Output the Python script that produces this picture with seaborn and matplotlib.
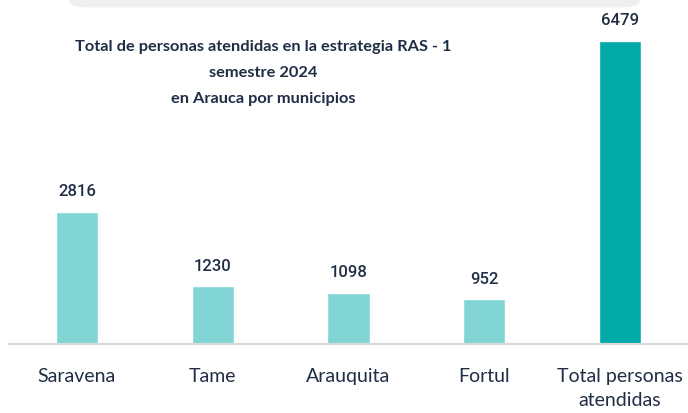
import matplotlib
matplotlib.use("Agg")
import matplotlib.pyplot as plt
from matplotlib.patches import FancyBboxPatch
import pandas as pd
import seaborn as sns

categories = ["Saravena", "Tame", "Arauquita", "Fortul", "Total personas\natendidas"]
values = [2816, 1230, 1098, 952, 6479]
bar_colors = ["#80d4d3", "#80d4d3", "#80d4d3", "#80d4d3", "#00aaa9"]

TITLE = "Total de personas atendidas en la estrategia RAS - 1\nsemestre 2024\nen Arauca por municipios"
TEXT_COLOR = "#1f2d45"

sns.set_theme(style="white")
plt.rcParams["font.family"] = ["Lato", "DejaVu Sans"]

df = pd.DataFrame({"municipio": categories, "personas": values})

fig = plt.figure(figsize=(6.88, 4.13), dpi=100)
ax = fig.add_axes([0.013, 0.167, 0.987, 0.794])

# light grey rounded shape peeking in at the top edge
fig.patches.append(FancyBboxPatch((0.1, 0.982), 0.83, 0.1, boxstyle="round,pad=0,rounding_size=0.03",
                                  transform=fig.transFigure, facecolor="#efefef", edgecolor="none",
                                  mutation_aspect=0.6))

sns.barplot(data=df, x="municipio", y="personas", hue="municipio", palette=bar_colors,
            legend=False, width=0.31, saturation=1, ax=ax)

for i, v in enumerate(values):
    ax.text(i, v + 270, str(v), ha="center", va="bottom", fontsize=12,
            color=TEXT_COLOR, fontweight="medium", family=["Roboto", "DejaVu Sans"])

ax.set_ylim(0, 7000)
ax.set_xlim(-0.5, 4.5)
ax.set_xlabel("")
ax.set_ylabel("")
ax.set_yticks([])
for s in ["top", "right", "left"]:
    ax.spines[s].set_visible(False)
ax.spines["bottom"].set_color("#d9d9d9")
ax.spines["bottom"].set_linewidth(1.6)
ax.tick_params(axis="x", length=0, pad=17, labelsize=14, labelcolor=TEXT_COLOR)
for lbl in ax.get_xticklabels():
    lbl.set_linespacing(1.5)

fig.text(0.383, 0.903, TITLE, ha="center", va="top", fontsize=11.8, fontweight="bold",
         color=TEXT_COLOR, linespacing=2.1)

fig.savefig("out.png", dpi=100, facecolor="white")
